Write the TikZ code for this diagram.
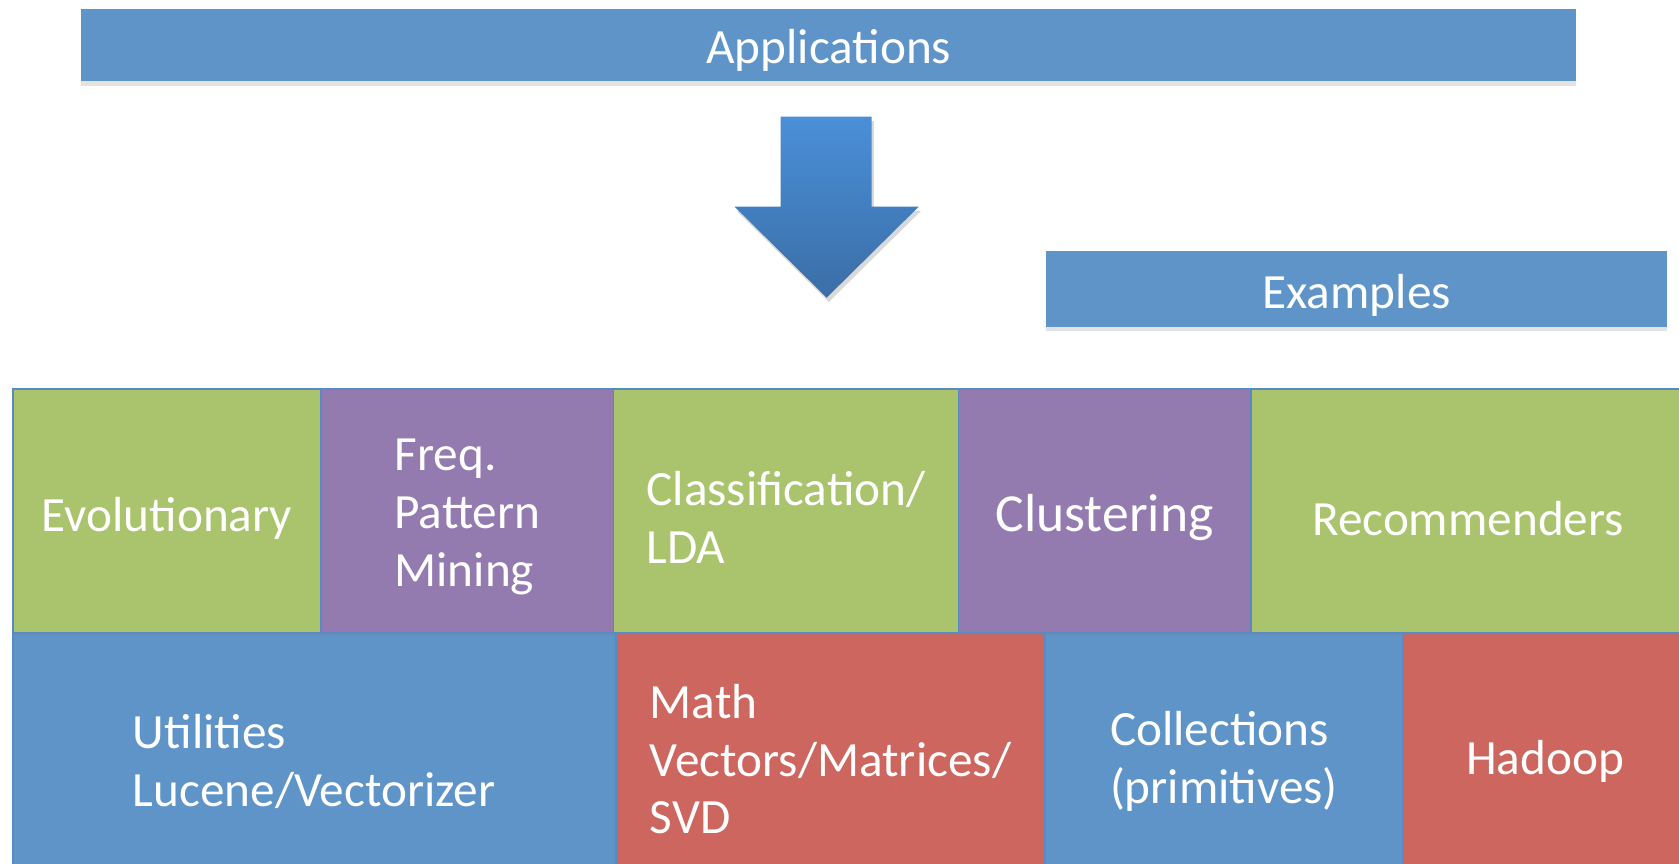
\documentclass[tikz,border=0pt]{standalone}
\usepackage{fontspec}
\setmainfont{Carlito}
\usetikzlibrary{shadows}
\definecolor{boxblue}{HTML}{5F94C9}
\definecolor{cellgreen}{HTML}{AAC46D}
\definecolor{cellpurple}{HTML}{937BB0}
\definecolor{cellred}{HTML}{CC665E}
\definecolor{edgeblue}{HTML}{5A8AC6}
\definecolor{arrowtop}{HTML}{4A8FD8}
\definecolor{arrowbot}{HTML}{3A6EA6}
\begin{document}
\begin{tikzpicture}[x=1pt,y=-1pt,
  bigtext/.style={font=\fontsize{46}{54}\selectfont, text=white, align=left, inner sep=0pt},
  cell/.style={draw=edgeblue, line width=1.5pt, inner sep=0pt, outer sep=0pt,
    anchor=north west, minimum height=228pt,
    drop shadow={opacity=0.25, shadow xshift=2pt, shadow yshift=-2pt}},
  banner/.style={fill=boxblue, inner sep=0pt, outer sep=0pt, anchor=north west,
    drop shadow={opacity=0.22, shadow xshift=0pt, shadow yshift=-4pt}}]
\useasboundingbox (0,0) rectangle (1568,806);
\clip (0,0) rectangle (1568,806);

% banners
\node[banner, minimum width=1396pt, minimum height=68pt] (apps) at (76,8) {};
\node[bigtext] (apps-t) at ([yshift=-5pt]apps.center) {Applications};
\node[banner, minimum width=580pt, minimum height=71pt] (examples) at (977,234) {};
\node[bigtext] (examples-t) at ([yshift=-6pt]examples.center) {Examples};

% arrow
\fill[black, opacity=0.15] (731,113) -- (816,113) -- (816,197) -- (860,197) -- (774,282) -- (688,197) -- (731,197) -- cycle;
\shade[top color=arrowtop, bottom color=arrowbot]
  (729,109) -- (814,109) -- (814,193) -- (858,193) -- (772,278) -- (686,193) -- (729,193) -- cycle;

% bottom row
\node[cell, fill=boxblue, minimum width=563pt] (util) at (12,591) {};
\node[cell, fill=cellred, minimum width=401pt] (math) at (575,591) {};
\node[cell, fill=boxblue, minimum width=334pt] (coll) at (976,591) {};
\node[cell, fill=cellred, minimum width=266pt] (hadoop) at (1310,591) {};

% top row
\node[cell, fill=cellgreen, minimum width=288pt] (evo) at (12,363) {};
\node[cell, fill=cellpurple, minimum width=273pt] (freq) at (300,363) {};
\node[cell, fill=cellgreen, minimum width=322pt] (class) at (573,363) {};
\node[cell, fill=cellpurple, minimum width=273pt] (clust) at (895,363) {};
\node[cell, fill=cellgreen, minimum width=406pt] (rec) at (1168,363) {};

% labels
\node[bigtext] (util-t) at ([yshift=-6pt]util.center) {Utilities\\Lucene/Vectorizer};
\node[bigtext] (math-t) at ([yshift=-4pt]math.center) {Math\\Vectors/Matrices/\\SVD};
\node[bigtext] (coll-t) at ([yshift=-6pt]coll.center) {Collections\\(primitives)};
\node[bigtext] (hadoop-t) at ([yshift=-6pt]hadoop.center) {Hadoop};
\node[bigtext] (evo-t) at ([yshift=-7pt]evo.center) {Evolutionary};
\node[bigtext] (freq-t) at ([yshift=-6pt]freq.center) {Freq.\\Pattern\\Mining};
\node[bigtext] (class-t) at ([yshift=-6pt]class.center) {Classification/\\LDA};
\node[bigtext, font=\fontsize{50}{54}\selectfont] (clust-t) at ([yshift=-6pt]clust.center) {Clustering};
\node[bigtext] (rec-t) at ([yshift=-7pt]rec.center) {Recommenders};
\end{tikzpicture}
\end{document}
